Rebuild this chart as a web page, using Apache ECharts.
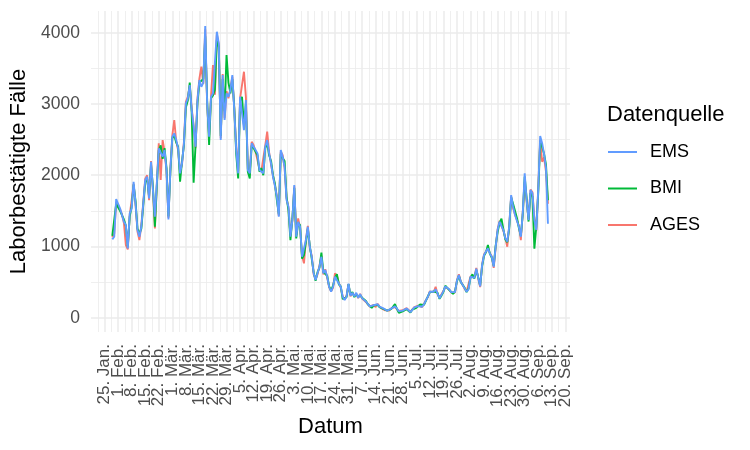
<!DOCTYPE html>
<html><head><meta charset="utf-8">
<script src="https://cdn.jsdelivr.net/npm/echarts@6/dist/echarts.min.js"></script>
<style>html,body{margin:0;padding:0;background:#fff}#c{width:750px;height:450px}</style>
</head><body><div id="c"></div>
<script>
// ---- data (daily values, 29 Jan 2021 .. 11 Sep 2021) ----
const axisOrigin = '2021-01-25';   // first labelled Monday
const firstDate = '2021-01-29';    // first data day
const tickLabels = ['25. Jan.','1. Feb.','8. Feb.','15. Feb.','22. Feb.','1. Mär.','8. Mär.','15. Mär.','22. Mär.','29. Mär.','5. Apr.','12. Apr.','19. Apr.','26. Apr.','3. Mai.','10. Mai.','17. Mai.','24. Mai.','31. Mai.','7. Jun.','14. Jun.','21. Jun.','28. Jun.','5. Jul.','12. Jul.','19. Jul.','26. Jul.','2. Aug.','9. Aug.','16. Aug.','23. Aug.','30. Aug.','6. Sep.','13. Sep.','20. Sep.'];
const yTicks = [0, 1000, 2000, 3000, 4000];

const ems = [
1100,1137,1666,1600,1535,1511,1347,1301,974,1465,
1535,1909,1605,1231,1137,1277,1605,1933,1979,1676,
2189,1792,1418,1886,2378,2400,2260,2354,2073,1381,
2073,2540,2588,2494,2378,2027,2167,2448,3009,3079,
3266,2915,2681,2400,3055,3336,3242,3300,4094,3000,
2540,3102,3149,3149,4014,3851,2494,3406,2775,3149,
3102,3196,3406,2915,2354,2027,3102,3079,2634,3055,
2073,2027,2448,2400,2354,2307,2073,2073,2027,2400,
2494,2307,2167,1979,1850,1698,1418,2354,2260,2119,
1652,1558,1137,1371,1862,1137,1347,1277,856,856,
1090,1277,996,856,623,529,623,716,856,623,
669,575,435,365,435,575,599,482,435,295,
248,300,480,310,350,300,350,280,330,275,
290,228,202,160,135,175,155,190,155,135,
132,110,98,98,128,110,160,130,90,95,
100,85,130,110,80,108,146,132,164,190,
155,190,245,295,365,388,365,398,340,272,
300,370,440,430,400,360,342,360,520,600,
505,500,412,365,400,575,599,560,690,560,
440,740,880,903,974,903,856,716,996,1231,
1347,1371,1231,1114,1070,1277,1722,1558,1441,1418,
1277,1137,1465,2027,1652,1371,1792,1746,1371,1231,
1800,2550,2450,2300,2100,1320];

const bmi = [
1150,1160,1600,1580,1500,1480,1380,1290,1000,1420,
1560,1870,1640,1250,1180,1250,1580,1900,1950,1700,
2150,1830,1277,1850,2350,2420,2230,2380,2100,1420,
2050,2520,2560,2460,2400,1909,2190,2420,2950,3050,
3300,2880,1895,2420,3010,3300,3290,3350,3950,3050,
2424,3080,3120,3200,3900,3800,2550,3350,2900,3687,
3300,3150,3350,2950,2300,1956,3050,3100,2700,3000,
2050,1956,2420,2380,2380,2280,2049,2100,2000,2380,
2450,2280,2200,2000,1880,1650,1450,2300,2240,2200,
1700,1500,1090,1390,1820,1114,1330,1300,830,880,
1060,1250,1010,830,640,520,640,700,913,640,
650,590,440,380,450,560,610,470,440,260,
248,290,470,320,360,290,330,290,320,280,
280,235,190,170,140,170,160,180,150,140,
125,115,100,92,120,115,192,125,70,52,
90,95,120,105,75,115,140,140,155,185,
165,180,240,300,355,380,370,390,350,265,
310,360,450,420,390,370,335,370,510,590,
500,490,420,360,410,560,610,550,670,570,
450,720,870,920,1020,900,840,730,1010,1200,
1330,1390,1240,1100,1060,1250,1690,1600,1628,1400,
1260,1150,1450,1980,1680,1350,1750,1700,970,1280,
1750,2480,2400,2300,2150,1650];

const ages = [
1130,1180,1620,1560,1520,1450,1330,1020,960,1440,
1652,1880,1590,1210,1090,1300,1620,1950,2000,1650,
2200,1780,1254,1870,2448,1933,2494,2330,2060,1400,
2100,2560,2775,2480,2350,2050,2150,2470,3030,3100,
3250,2940,2700,2380,3080,3360,3523,3280,4050,2980,
2560,3120,3547,3130,3980,3830,2520,3420,2800,3180,
3080,3220,3380,2940,2380,2060,3080,3060,3453,3100,
2090,2050,2470,2420,2330,2320,2090,2060,2050,2420,
2611,2320,2150,1990,1860,1710,1430,2330,2280,2100,
1680,1540,1150,1360,1840,1160,1395,1260,870,763,
1100,1290,980,870,610,540,610,730,870,610,
680,560,430,370,420,623,590,490,420,300,
255,310,470,300,345,310,340,275,335,270,
295,222,210,155,130,180,150,195,160,130,
138,105,105,100,132,105,150,135,95,90,
105,80,135,115,85,100,150,128,170,195,
150,195,250,290,370,395,360,435,330,280,
295,375,435,440,395,355,350,355,525,610,
510,505,405,370,395,580,590,570,700,550,
430,750,890,890,965,910,860,700,985,1240,
1360,1360,1220,1120,996,1290,1700,1540,1450,1430,
1290,1090,1480,1909,1640,1380,1800,1760,1400,1220,
1820,2500,2189,2250,2050,1600];

const colors = {EMS: '#619CFF', BMI: '#00BA38', AGES: '#F8766D'};
// ---- build ----
const DAY = 86400000;
const startOffset = Math.round((Date.parse(firstDate) - Date.parse(axisOrigin)) / DAY);
const toPairs = arr => arr.map((v, i) => [startOffset + i, v]);
const font = '"Liberation Sans", Arial, Helvetica, sans-serif';
const gridColor = '#EBEBEB';

const chart = echarts.init(document.getElementById('c'), null, {renderer: 'canvas'});
chart.setOption({
  animation: false,
  backgroundColor: '#ffffff',
  textStyle: {fontFamily: font},
  grid: {left: 91, top: 11, width: 479, height: 321, containLabel: false},
  title: {
    text: 'Datenquelle', left: 602, top: 99,
    textStyle: {fontFamily: font, fontSize: 22, fontWeight: 'normal', color: '#000'}
  },
  legend: {
    orient: 'vertical', left: 603, top: 138,
    data: ['EMS', 'BMI', 'AGES'],
    icon: 'rect', itemWidth: 29, itemHeight: 2, itemGap: 18.5,
    textStyle: {fontFamily: font, fontSize: 18, lineHeight: 18, color: '#000', padding: [0, 0, 0, 8]}
  },
  xAxis: {
    type: 'value', min: -7, max: 240.4, interval: 7,
    name: 'Datum', nameLocation: 'middle', nameGap: 84,
    nameTextStyle: {fontFamily: font, fontSize: 22, color: '#000'},
    axisLine: {show: false}, axisTick: {show: false},
    axisLabel: {
      rotate: 90, margin: 12, fontFamily: font, fontSize: 17, color: '#4D4D4D',
      showMinLabel: false, showMaxLabel: false,
      formatter: v => {
        if (v < 0 || Math.abs(v / 7 - Math.round(v / 7)) > 1e-6) return '';
        return tickLabels[Math.round(v / 7)] || '';
      }
    },
    splitLine: {show: true, showMinLine: false, showMaxLine: false, lineStyle: {color: gridColor, width: 1.5}},
    minorTick: {show: false, splitNumber: 2},
    minorSplitLine: {show: true, lineStyle: {color: gridColor, width: 0.8}}
  },
  yAxis: {
    type: 'value', min: -200, max: 4305,
    name: 'Laborbestätigte Fälle', nameLocation: 'middle', nameGap: 55,
    nameTextStyle: {fontFamily: font, fontSize: 22, color: '#000'},
    axisLine: {show: false}, axisTick: {show: false},
    axisLabel: {
      margin: 11, fontFamily: font, fontSize: 17.5, color: '#4D4D4D',
      showMinLabel: false, showMaxLabel: false,
      formatter: v => (yTicks.indexOf(v) >= 0 ? String(v) : '')
    },
    splitLine: {show: true, showMinLine: false, showMaxLine: false, lineStyle: {color: gridColor, width: 1.5}},
    minorTick: {show: false, splitNumber: 2},
    minorSplitLine: {show: true, lineStyle: {color: gridColor, width: 0.8}}
  },
  series: [
    {name: 'AGES', type: 'line', data: toPairs(ages), showSymbol: false, symbol: 'none',
     lineStyle: {color: colors.AGES, width: 1.9}, itemStyle: {color: colors.AGES}},
    {name: 'BMI', type: 'line', data: toPairs(bmi), showSymbol: false, symbol: 'none',
     lineStyle: {color: colors.BMI, width: 1.9}, itemStyle: {color: colors.BMI}},
    {name: 'EMS', type: 'line', data: toPairs(ems), showSymbol: false, symbol: 'none',
     lineStyle: {color: colors.EMS, width: 1.9}, itemStyle: {color: colors.EMS}}
  ]
});
</script>
</body></html>
